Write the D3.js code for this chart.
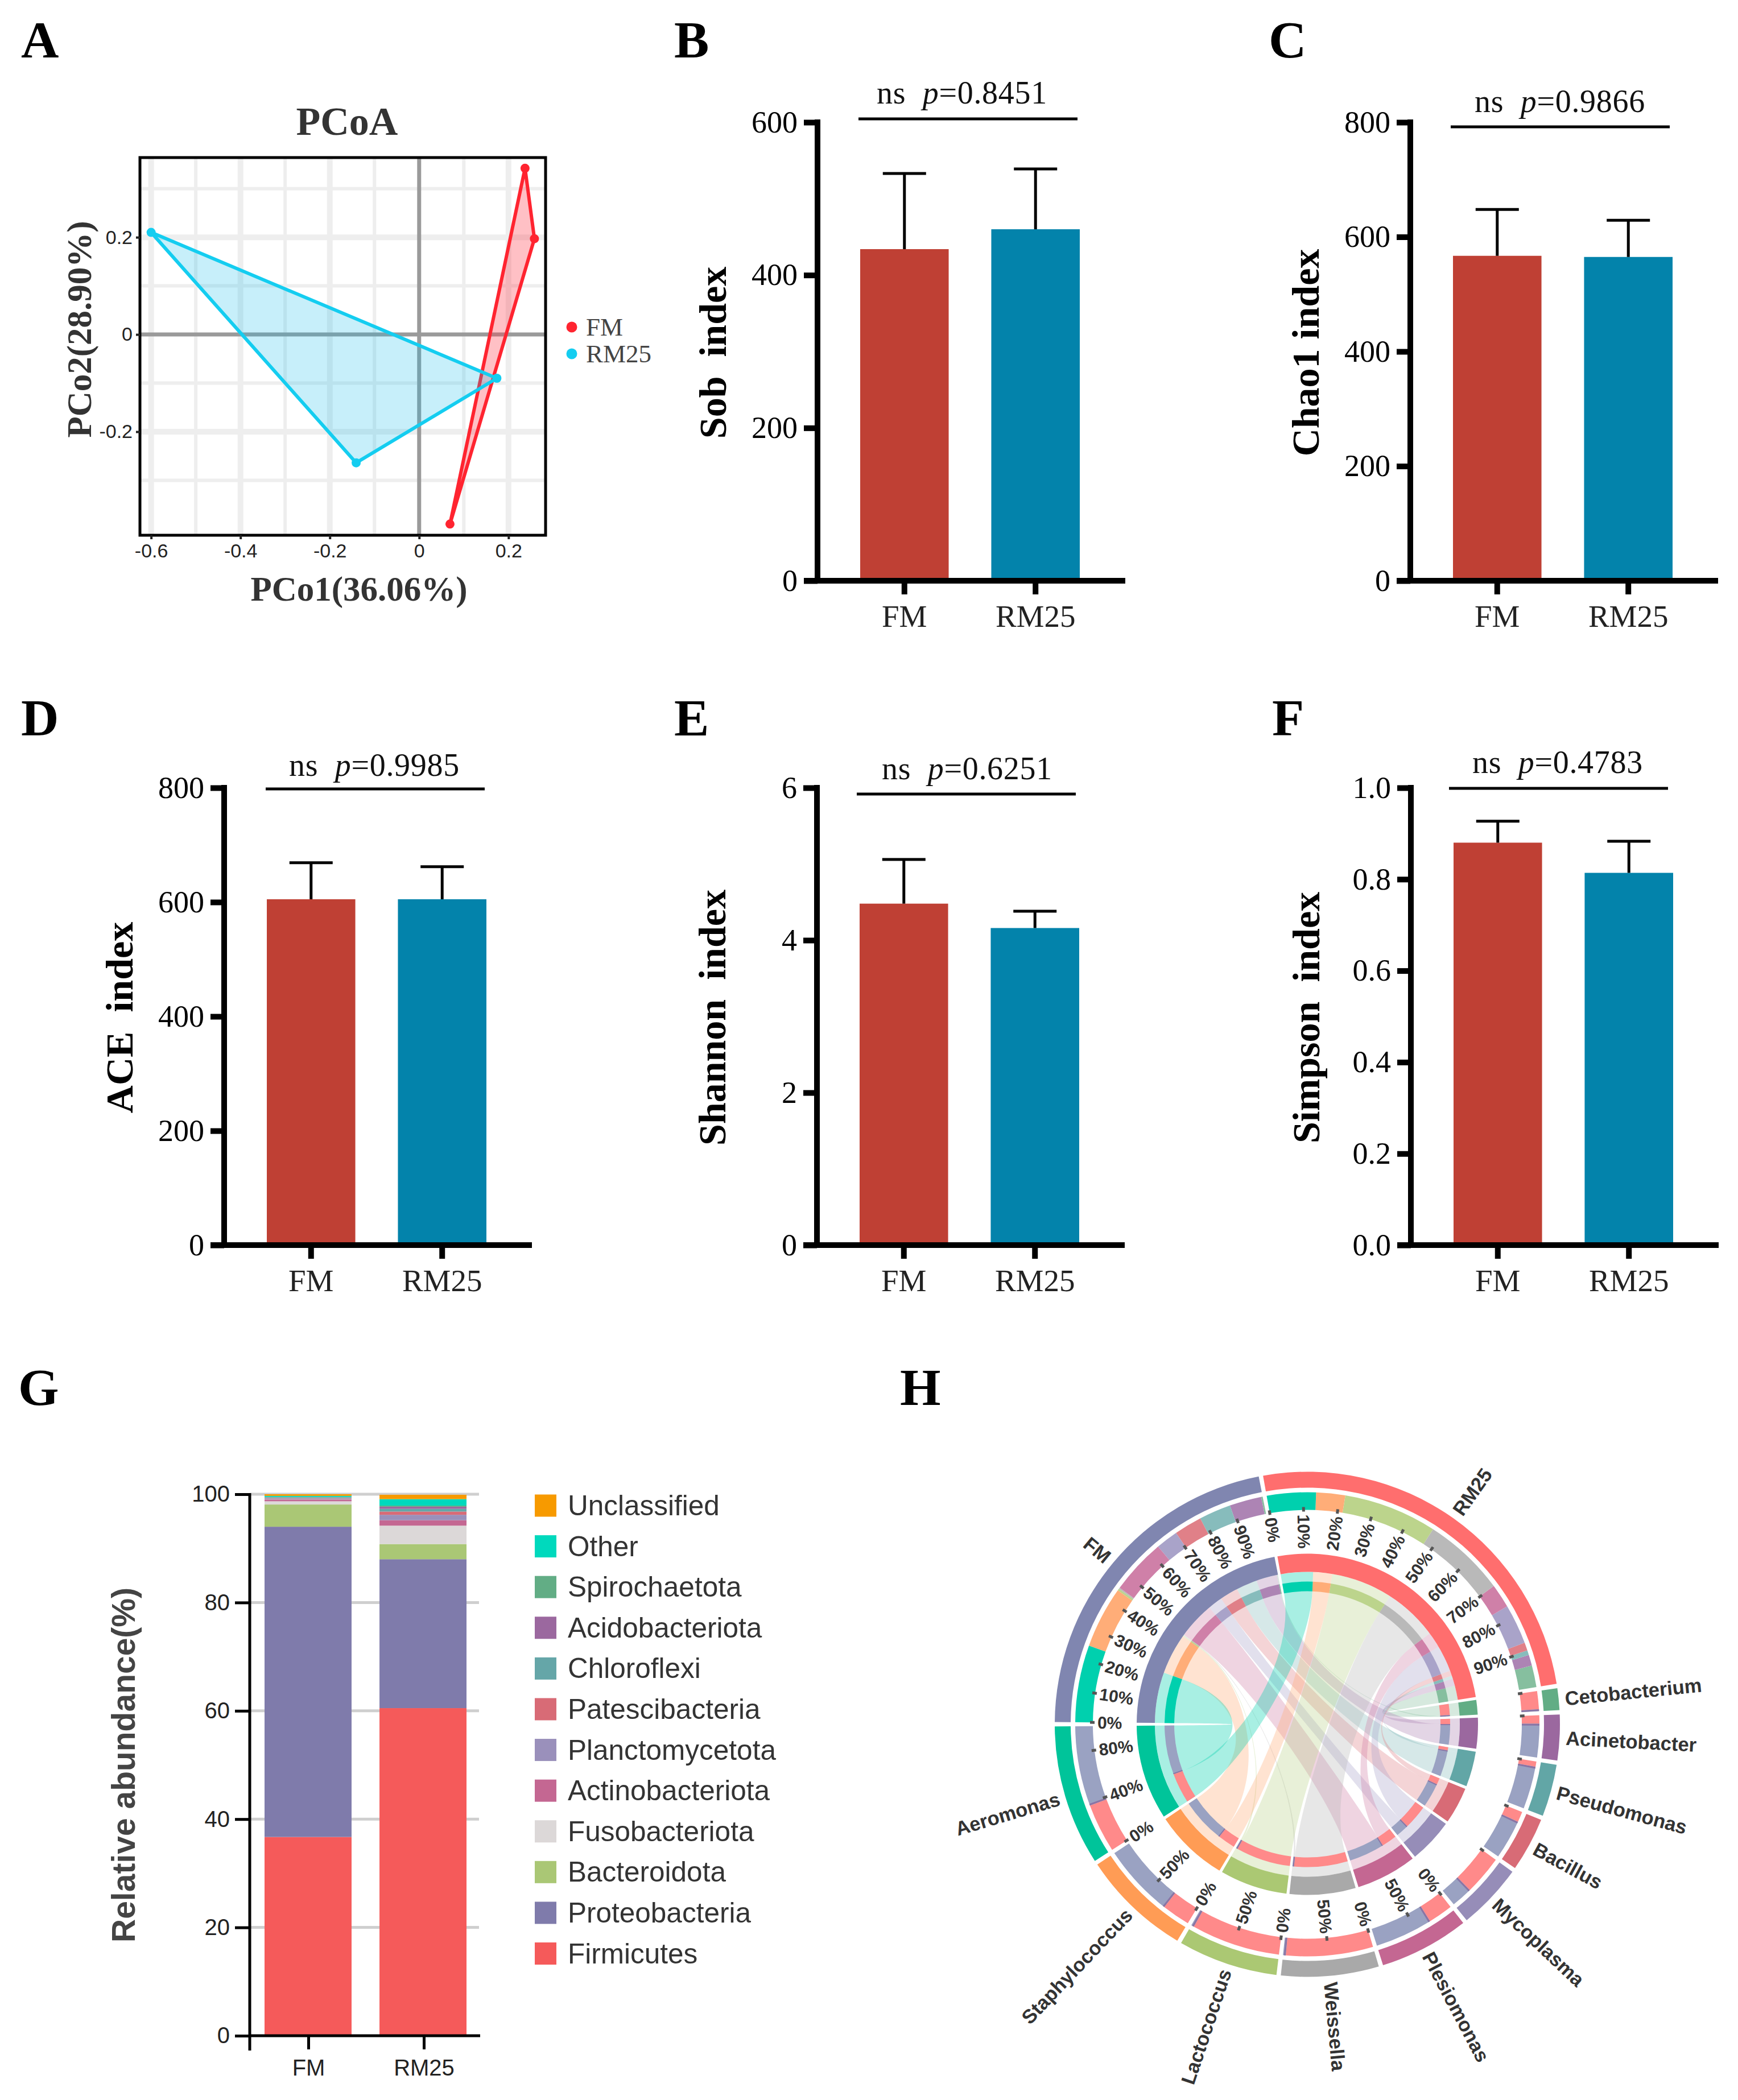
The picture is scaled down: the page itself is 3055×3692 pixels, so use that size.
<!DOCTYPE html>
<html><head><meta charset="utf-8">
<script src="https://cdn.jsdelivr.net/npm/d3@7"></script>
<style>
html,body{margin:0;padding:0;background:#fff}
svg{display:block}
.serif{font-family:"Liberation Serif","Times New Roman",serif}
.sans{font-family:"Liberation Sans",Arial,sans-serif}
</style></head><body>
<script>
// ---------- data ----------
const groups = ['FM','RM25'];
const pcoaFM   = [[0.237,0.342],[0.258,0.197],[0.069,-0.390]];
const pcoaRM25 = [[-0.600,0.210],[0.174,-0.090],[-0.141,-0.264]];
const sobMeans=[434,460], sobTops=[533,539];
const chaoMeans=[567,565], chaoTops=[648,629];
const aceMeans=[605,605], aceTops=[669,662];
const shannonMeans=[4.48,4.16], shannonTops=[5.06,4.38];
const simpsonMeans=[0.880,0.814], simpsonTops=[0.927,0.883];
const phyla=['Firmicutes','Proteobacteria','Bacteroidota','Fusobacteriota','Actinobacteriota','Planctomycetota','Patescibacteria','Chloroflexi','Acidobacteriota','Spirochaetota','Other','Unclassified'];
const phylaFM=[36.7,57.3,4.1,0.6,0.3,0.1,0.1,0.1,0.1,0.1,0.2,0.3];
const phylaRM25=[60.5,27.5,2.8,3.4,1.0,1.0,0.6,0.5,0.4,0.2,1.2,0.8];
const phylaColors=['#f55a5a','#7f7bab','#aac775','#dcd8d8','#c46792','#9a90bb','#d86b76','#65a6a8','#9b689f','#62ad85','#00d9bd','#f79a00'];
// circular plot
const genera=['Cetobacterium','Acinetobacter','Pseudomonas','Bacillus','Mycoplasma','Plesiomonas','Weissella','Lactococcus','Staphylococcus','Aeromonas'];
const genusWidths=[5,10.5,12,12.5,15.2,20.7,22.5,23,25.3,32.3];
const sampleWidths=[78.5,91];
const genusShareRM25=[90,20,11,21,65,30,97,97,28,38];
const compRM25=[6,3,1.3,2.2,11,6.6,22.7,25.7,8,13.5];
const compFM=[0.5,10.2,10.2,8.9,7.1,17.8,0.4,0.6,19.7,24.6];
const genusColors=['#62ad85','#9b689f','#62a6a6','#d86b76','#968db8','#c46792','#a9a9a9','#abc873','#ff9c55','#00c49a'];
const genusLight=['#86bf9f','#ad84b4','#87bcbc','#e08088','#a9a3c9','#cf80a8','#b9b9b9','#bcd48c','#ffad78','#00d0ae'];
const sampleColors=['#8086b0','#ff6e6e'];
const sampleLight=['#9aa2c2','#ff8a8a'];
const genusTicks=[[0],[0],[0],[0],[0],[0,50],[0,50],[0,50],[0,50],[0,40,80]];
const genusTickLabels=[false,false,false,false,false,true,true,true,true,true];
const sampleTicks=[0,10,20,30,40,50,60,70,80,90];

// ---------- page ----------
const svg=d3.select('body').append('svg').attr('width',3055).attr('height',3692).attr('viewBox','0 0 3055 3692');
svg.append('rect').attr('width',3055).attr('height',3692).attr('fill','#fff');

[['A',37,101],['B',1185,101],['C',2230,101],['D',37,1293],['E',1185,1293],['F',2236,1293],['G',32,2470],['H',1582,2470]].forEach(([t,x,y])=>{
  svg.append('text').attr('class','serif').attr('x',x).attr('y',y).attr('font-size',92).attr('font-weight','bold').attr('fill','#000').text(t);
});

// ---------- A: PCoA ----------
(function(){
  const L=246,R=959,T=277,B=941;
  const x=d3.scaleLinear().domain([-0.625,0.283]).range([L,R]);
  const y=d3.scaleLinear().domain([-0.413,0.364]).range([B,T]);
  const g=svg.append('g');
  const grid=g.append('g').attr('stroke','#eeeeee').attr('fill','none');
  [-0.6,-0.5,-0.4,-0.3,-0.2,-0.1,0.1,0.2].forEach(v=>{
    const major=Math.abs(Math.round(v*10))%2===0;
    grid.append('line').attr('x1',x(v)).attr('x2',x(v)).attr('y1',T).attr('y2',B).attr('stroke-width',major?10:6);
  });
  [-0.3,-0.2,-0.1,0.1,0.2,0.3].forEach(v=>{
    const major=Math.abs(Math.round(v*10))%2===0;
    grid.append('line').attr('x1',L).attr('x2',R).attr('y1',y(v)).attr('y2',y(v)).attr('stroke-width',major?10:6);
  });
  g.append('line').attr('x1',x(0)).attr('x2',x(0)).attr('y1',T).attr('y2',B).attr('stroke','#9a9a9a').attr('stroke-width',7);
  g.append('line').attr('x1',L).attr('x2',R).attr('y1',y(0)).attr('y2',y(0)).attr('stroke','#9a9a9a').attr('stroke-width',7);
  const line=d3.line().x(d=>x(d[0])).y(d=>y(d[1])).curve(d3.curveLinearClosed);
  [[pcoaFM,'#ff2430','rgba(255,60,75,0.32)'],[pcoaRM25,'#14cdf0','rgba(20,190,235,0.24)']].forEach(([pts,c,f])=>{
    g.append('path').attr('d',line(pts)).attr('fill',f).attr('stroke',c).attr('stroke-width',6).attr('stroke-linejoin','round');
    g.selectAll(null).data(pts).enter().append('circle').attr('cx',d=>x(d[0])).attr('cy',d=>y(d[1])).attr('r',8).attr('fill',c);
  });
  g.append('rect').attr('x',L).attr('y',T).attr('width',R-L).attr('height',B-T).attr('fill','none').attr('stroke','#000').attr('stroke-width',5);
  const ax=g.append('g').attr('transform',`translate(0,${B})`).call(d3.axisBottom(x).tickValues([-0.6,-0.4,-0.2,0,0.2]).tickSize(7).tickPadding(8).tickFormat(d=>String(d)));
  const ay=g.append('g').attr('transform',`translate(${L},0)`).call(d3.axisLeft(y).tickValues([-0.2,0,0.2]).tickSize(7).tickPadding(6).tickFormat(d=>String(d)));
  [ax,ay].forEach(a=>{a.select('.domain').remove();a.selectAll('line').attr('stroke','#222').attr('stroke-width',4);a.selectAll('text').attr('class','sans').attr('font-size',34).attr('fill','#222').attr('font-family','Liberation Sans');});
  g.append('text').attr('class','serif').attr('x',610).attr('y',237).attr('text-anchor','middle').attr('font-size',70).attr('font-weight','bold').attr('fill','#333').text('PCoA');
  g.append('text').attr('class','serif').attr('x',631).attr('y',1056).attr('text-anchor','middle').attr('font-size',61).attr('font-weight','bold').attr('fill','#333').text('PCo1(36.06%)');
  g.append('text').attr('class','serif').attr('transform','translate(160,579) rotate(-90)').attr('text-anchor','middle').attr('font-size',61).attr('font-weight','bold').attr('fill','#333').text('PCo2(28.90%)');
  [['FM','#ff2430',575],['RM25','#14cdf0',622]].forEach(([t,c,yy])=>{
    g.append('circle').attr('cx',1005).attr('cy',yy).attr('r',9.5).attr('fill',c);
    g.append('text').attr('class','serif').attr('x',1030).attr('y',yy+15).attr('font-size',45).attr('fill','#444').text(t);
  });
})();

// ---------- B-F: bar panels ----------
const barColors=['#bf4034','#0383ab'];
function barPanel(o){
  const x=d3.scaleBand().domain(groups).range([o.ax+75,o.ax+461]).paddingInner(0.325).paddingOuter(0);
  const y=d3.scaleLinear().domain([0,o.max]).range([o.y0,o.y1]);
  const g=svg.append('g');
  g.selectAll(null).data(groups).enter().append('rect')
    .attr('x',d=>x(d)).attr('width',x.bandwidth()).attr('y',(d,i)=>y(o.means[i])).attr('height',(d,i)=>o.y0-y(o.means[i])).attr('fill',(d,i)=>barColors[i]);
  g.selectAll(null).data(groups).enter().append('line')
    .attr('x1',d=>x(d)+x.bandwidth()/2).attr('x2',d=>x(d)+x.bandwidth()/2).attr('y1',(d,i)=>y(o.means[i])).attr('y2',(d,i)=>y(o.tops[i])).attr('stroke','#000').attr('stroke-width',5);
  g.selectAll(null).data(groups).enter().append('line')
    .attr('x1',d=>x(d)+x.bandwidth()/2-38).attr('x2',d=>x(d)+x.bandwidth()/2+38).attr('y1',(d,i)=>y(o.tops[i])).attr('y2',(d,i)=>y(o.tops[i])).attr('stroke','#000').attr('stroke-width',5);
  const ay=g.append('g').attr('transform',`translate(${o.ax},0)`).call(d3.axisLeft(y).tickValues(o.ticks).tickFormat(o.fmt).tickSize(24).tickSizeOuter(0).tickPadding(11));
  ay.select('.domain').remove();
  ay.selectAll('line').attr('stroke','#000').attr('stroke-width',10);
  ay.selectAll('text').attr('font-size',54).attr('font-family','Liberation Serif').attr('fill','#000');
  g.append('line').attr('x1',o.ax).attr('x2',o.ax).attr('y1',o.y1-5).attr('y2',o.y0+5).attr('stroke','#000').attr('stroke-width',10);
  g.append('line').attr('x1',o.ax-24).attr('x2',o.ax+541).attr('y1',o.y0).attr('y2',o.y0).attr('stroke','#000').attr('stroke-width',10);
  const ax2=g.append('g').attr('transform',`translate(0,${o.y0})`).call(d3.axisBottom(x).tickSize(24).tickPadding(18));
  ax2.select('.domain').remove();
  ax2.selectAll('line').attr('stroke','#000').attr('stroke-width',10);
  ax2.selectAll('text').attr('font-size',55).attr('font-family','Liberation Serif').attr('fill','#222');
  g.append('text').attr('class','serif').style('white-space','pre')
    .attr('transform',`translate(${o.ax-161},${(o.y0+o.y1)/2+2}) rotate(-90)`).attr('text-anchor','middle').attr('font-size',68).attr('font-weight','bold').attr('fill','#000').text(o.title);
  const t=g.append('text').attr('class','serif').style('white-space','pre').attr('x',o.ax+o.annX).attr('y',o.annY).attr('text-anchor','middle').attr('font-size',56).attr('letter-spacing',0.7).attr('fill','#111');
  t.append('tspan').text('ns  ');
  t.append('tspan').attr('font-style','italic').text('p');
  t.append('tspan').text('='+o.p);
  g.append('line').attr('x1',o.ax+o.lineX).attr('x2',o.ax+o.lineX+385).attr('y1',o.lineY).attr('y2',o.lineY).attr('stroke','#000').attr('stroke-width',5);
}
const fmt0=d=>String(d), fmt1=d3.format('.1f');
const topY0=1021, topY1=215, midY0=2189, midY1=1385;
barPanel({ax:1437,y0:topY0,y1:topY1,max:600,ticks:[0,200,400,600],fmt:fmt0,means:sobMeans,tops:sobTops,title:'Sob  index',p:'0.8451',annX:254,annY:182,lineX:72,lineY:209});
barPanel({ax:2479,y0:topY0,y1:topY1,max:800,ticks:[0,200,400,600,800],fmt:fmt0,means:chaoMeans,tops:chaoTops,title:'Chao1 index',p:'0.9866',annX:263,annY:197,lineX:71,lineY:223});
barPanel({ax:394,y0:midY0,y1:midY1,max:800,ticks:[0,200,400,600,800],fmt:fmt0,means:aceMeans,tops:aceTops,title:'ACE  index',p:'0.9985',annX:264,annY:1364,lineX:73,lineY:1387});
barPanel({ax:1436,y0:midY0,y1:midY1,max:6,ticks:[0,2,4,6],fmt:fmt0,means:shannonMeans,tops:shannonTops,title:'Shannon  index',p:'0.6251',annX:264,annY:1370,lineX:70,lineY:1396});
barPanel({ax:2480,y0:midY0,y1:midY1,max:1,ticks:[0,0.2,0.4,0.6,0.8,1],fmt:fmt1,means:simpsonMeans,tops:simpsonTops,title:'Simpson  index',p:'0.4783',annX:258,annY:1359,lineX:67,lineY:1386});

// ---------- G: stacked bars ----------
(function(){
  const y=d3.scaleLinear().domain([0,100]).range([3579,2627]);
  const x=d3.scaleBand().domain(groups).range([465,820]).paddingInner(0.243).paddingOuter(0);
  const g=svg.append('g');
  [20,40,60,80,100].forEach(v=>g.append('line').attr('x1',439).attr('x2',842).attr('y1',y(v)).attr('y2',y(v)).attr('stroke','#cfcfcf').attr('stroke-width',5));
  const rows=groups.map((name,i)=>{const r={name};phyla.forEach((p,j)=>r[p]=(i?phylaRM25:phylaFM)[j]);return r;});
  const series=d3.stack().keys(phyla)(rows);
  series.forEach((s,k)=>{
    g.selectAll(null).data(s).enter().append('rect').attr('x',d=>x(d.data.name)).attr('width',x.bandwidth())
      .attr('y',d=>y(d[1])).attr('height',d=>y(d[0])-y(d[1])).attr('fill',phylaColors[k]);
  });
  const ay=g.append('g').attr('transform','translate(439,0)').call(d3.axisLeft(y).tickValues([0,20,40,60,80,100]).tickSize(26).tickPadding(9));
  ay.select('.domain').remove();
  ay.selectAll('line').attr('stroke','#000').attr('stroke-width',5);
  ay.selectAll('text').attr('font-size',40).attr('font-family','Liberation Sans').attr('fill','#222');
  g.append('line').attr('x1',439).attr('x2',439).attr('y1',2625).attr('y2',3605).attr('stroke','#000').attr('stroke-width',5);
  g.append('line').attr('x1',437).attr('x2',844).attr('y1',3579).attr('y2',3579).attr('stroke','#000').attr('stroke-width',5);
  const ticksAt=d3.scalePoint().domain(groups).range([542,745]);
  const ax=g.append('g').attr('transform','translate(0,3579)').call(d3.axisBottom(ticksAt).tickSize(24).tickPadding(18));
  ax.select('.domain').remove();
  ax.selectAll('line').attr('stroke','#000').attr('stroke-width',5);
  ax.selectAll('text').attr('font-size',40).attr('font-family','Liberation Sans').attr('fill','#222');
  g.append('text').attr('class','sans').attr('transform','translate(237,3103) rotate(-90)').attr('text-anchor','middle').attr('font-size',57).attr('font-weight','bold').attr('fill','#444').text('Relative abundance(%)');
  const legendY=d3.scalePoint().domain(phyla.slice().reverse()).range([2647,3434.5]);
  phyla.forEach((p,i)=>{
    g.append('rect').attr('x',940).attr('y',legendY(p)-19.5).attr('width',38).attr('height',39).attr('fill',phylaColors[i]);
    g.append('text').attr('class','sans').attr('x',998).attr('y',legendY(p)+17).attr('font-size',49.5).attr('fill','#333').text(p);
  });
})();

// ---------- H: circular flow plot ----------
(function(){
  const rad=d=>d*Math.PI/180, deg=a=>a*180/Math.PI;
  const g=svg.append('g').attr('transform','translate(2298,3031.5)');
  const names=['RM25',...genera,'FM'];
  const widths=[sampleWidths[1],...genusWidths,sampleWidths[0]];
  const pad=rad(1);
  const start=rad(-10.6);
  const pie=d3.pie().sort(null).value((d,i)=>widths[i]).startAngle(start).endAngle(start+2*Math.PI).padAngle(pad);
  const arcs=pie(names).map(a=>({name:a.data,start:a.startAngle+pad/2,end:a.endAngle-pad/2}));
  const arc=d3.arc();
  const ring=(r0,r1,a0,a1,fill,op)=>g.append('path').attr('d',arc({innerRadius:r0,outerRadius:r1,startAngle:a0,endAngle:a1})).attr('fill',fill).attr('fill-opacity',op==null?1:op);
  const span=a=>a.end-a.start;
  const rmArc=arcs[0], fmArc=arcs[arcs.length-1], genArcs=arcs.slice(1,-1);

  const orderIdx=genera.map((_,i)=>genera.length-1-i); // clockwise: Aeromonas first on the sample sectors
  const seg={};
  let cumRM=0,cumFM=0;
  orderIdx.forEach(i=>{
    seg[i]={};
    seg[i].rm=[rmArc.start+span(rmArc)*cumRM/100, rmArc.start+span(rmArc)*(cumRM+compRM25[i])/100]; cumRM+=compRM25[i];
    seg[i].fm=[fmArc.start+span(fmArc)*cumFM/100, fmArc.start+span(fmArc)*(cumFM+compFM[i])/100]; cumFM+=compFM[i];
    const G=genArcs[i];
    const m=G.start+span(G)*genusShareRM25[i]/100;
    seg[i].gRM=[G.start,m]; seg[i].gFM=[m,G.end];
  });
  const R0=234,R1=251,R2=268,R3=300,R4=377,R5=408,R6=416,R7=444;
  const pt=a=>[Math.sin(a)*R0,-Math.cos(a)*R0];
  function edge(p,a,b){
    // bezier whose handles pull towards the centre, harder for long chords
    let d=Math.abs(a-b)%(2*Math.PI); if(d>Math.PI) d=2*Math.PI-d;
    const k=0.42+0.13*Math.sin(d/2);
    const P=pt(a),Q=pt(b);
    p.bezierCurveTo(P[0]*k,P[1]*k,Q[0]*k,Q[1]*k,Q[0],Q[1]);
  }
  function ribbonPath(u,v){
    const p=d3.path(), h=-Math.PI/2, s=pt(u[0]);
    p.moveTo(s[0],s[1]);
    p.arc(0,0,R0,u[0]+h,u[1]+h);
    edge(p,u[1],v[0]);
    p.arc(0,0,R0,v[0]+h,v[1]+h);
    edge(p,v[1],u[0]);
    p.closePath();
    return p.toString();
  }
  orderIdx.slice().reverse().forEach(i=>{
    const s=seg[i];
    [[s.rm,s.gRM],[s.fm,s.gFM]].forEach(([u,v])=>{
      g.append('path').attr('d',ribbonPath(u,v)).attr('fill',genusLight[i]).attr('fill-opacity',0.34);
      ring(R0,R2,u[0],u[1],genusLight[i],0.34);
      ring(R0,R2,v[0],v[1],genusLight[i],0.34);
    });
  });
  arcs.forEach((a,k)=>{
    const col=k===0?sampleColors[1]:k===arcs.length-1?sampleColors[0]:genusColors[k-1];
    ring(R2,R3,a.start,a.end,col);
    ring(R6,R7,a.start,a.end,col);
  });
  genera.forEach((_,i)=>{
    const s=seg[i];
    [[s.rm,genusLight[i]],[s.fm,genusLight[i]],[s.gRM,sampleLight[1]],[s.gFM,sampleLight[0]]].forEach(([u,c])=>{
      ring(R0,R1,u[0],u[1],c);
      ring(R4,R5,u[0],u[1],c);
    });
    // darker junction between the two sample shares on a genus sector
    const m=s.gRM[1], q=rad(0.45);
    ring(R0,R1,m,m+q,'#8a74a4');
    ring(R4,R5,m,m+q,'#8a74a4');
  });
  function radial(angle,r,text,size,weight,inward){
    const d=deg(angle), norm=((d%360)+360)%360;
    const right=norm<180;
    const rot=right?norm-90:norm+90;
    const anchor=inward?(right?'end':'start'):(right?'start':'end');
    const px=Math.sin(angle)*r, py=-Math.cos(angle)*r;
    g.append('text').attr('class','sans').attr('transform',`translate(${px},${py}) rotate(${rot})`).attr('text-anchor',anchor)
      .attr('dy','0.36em').attr('font-size',size).attr('font-weight',weight).attr('fill','#333').text(text);
  }
  function tick(angle){
    const r0=374,r1=382;
    g.append('line').attr('x1',Math.sin(angle)*r0).attr('y1',-Math.cos(angle)*r0).attr('x2',Math.sin(angle)*r1).attr('y2',-Math.cos(angle)*r1).attr('stroke','#555').attr('stroke-width',5);
  }
  [rmArc,fmArc].forEach(a=>sampleTicks.forEach(t=>{
    const an=a.start+span(a)*t/100; tick(an); radial(an,369,t+'%',30,'bold',true);
  }));
  genArcs.forEach((a,i)=>genusTicks[i].forEach(t=>{
    const an=a.start+span(a)*t/100; tick(an);
    if(genusTickLabels[i]) radial(an,369,t+'%',30,'bold',true);
  }));
  arcs.forEach(a=>radial((a.start+a.end)/2,455,a.name,34.5,'bold',false));
})();
</script>
</body></html>
